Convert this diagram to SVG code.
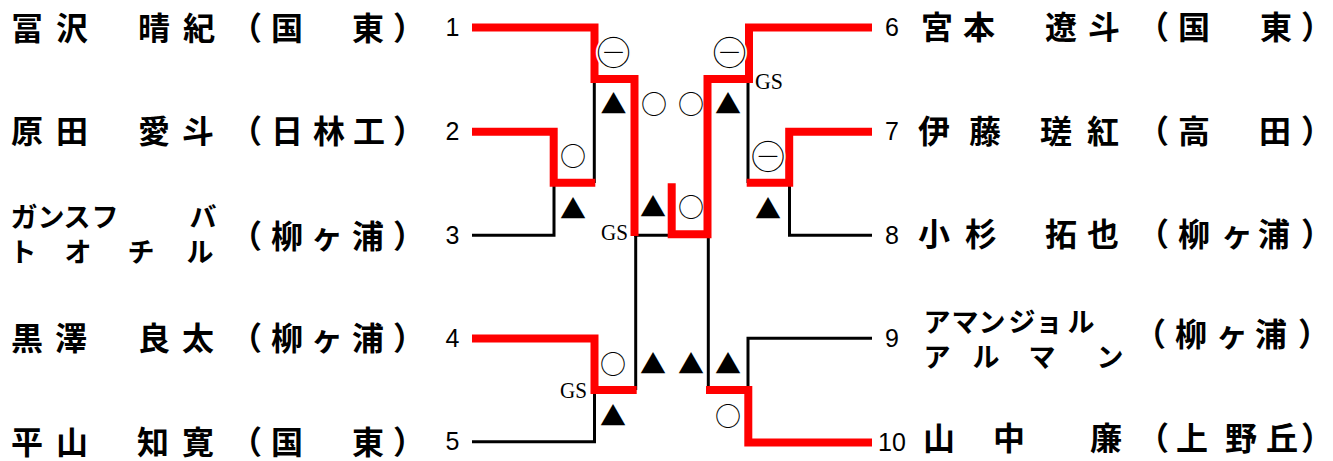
<svg xmlns="http://www.w3.org/2000/svg" width="1333" height="461" viewBox="0 0 1333 461">
<style>
.nm{font-family:"Noto Sans CJK JP","Noto Sans CJK SC",sans-serif;font-weight:bold;font-size:32px;fill:#000;text-anchor:middle}
.kn{font-family:"Noto Sans CJK JP","Noto Sans CJK SC",sans-serif;font-weight:bold;font-size:27px;fill:#000;text-anchor:middle}
.no{font-family:"Liberation Sans",Arial,sans-serif;font-size:25px;fill:#000;text-anchor:middle}
.mk{font-family:"Noto Sans CJK JP","DejaVu Sans",sans-serif;font-size:26px;fill:#000;text-anchor:middle}
.mn{font-family:"Noto Sans CJK JP","DejaVu Sans",sans-serif;font-size:45px;fill:#000;stroke:#fff;stroke-width:1.8;text-anchor:middle}
.gs{font-family:"Liberation Serif","Times New Roman",serif;font-size:23px;fill:#000}
.bk{fill:none;stroke:#000;stroke-width:3;stroke-linejoin:miter;stroke-linecap:butt}
.rd{fill:none;stroke:#ff0000;stroke-width:8;stroke-linejoin:miter;stroke-linecap:butt}
</style>
<rect width="1333" height="461" fill="#fff"/>
<g id="connectors">
<path class="bk" d="M472 235.3H554V183"/>
<path class="bk" d="M594.3 79V183"/>
<path class="bk" d="M472 441.7H594.5V390"/>
<path class="bk" d="M635.7 235.3V390"/>
<path class="bk" d="M634 235.3H708"/>
<path class="bk" d="M708.3 235.3V390"/>
<path class="bk" d="M748 79V183"/>
<path class="bk" d="M872 235.3H789.5V183"/>
<path class="bk" d="M872 338.3H748V390"/>
<path class="rd" d="M472 27.5H594.5V79H634.5V236"/>
<path class="rd" d="M472 131.7H553.7V182.8H595.3"/>
<path class="rd" d="M472 338.5H594.5V390H636.7"/>
<path class="rd" d="M872 27.5H749V79H707.5V234.2H671.7V183.3"/>
<path class="rd" d="M872 131.7H789.2V182.8H746.7"/>
<path class="rd" d="M872 442.5H748.3V390H706"/>
</g>
<g id="marks">
<text class="mn" x="613.5" y="70">⊖</text>
<text class="mk" x="613.5" y="114">▲</text>
<text class="mk" x="654" y="114">○</text>
<text class="mk" x="691" y="114">○</text>
<text class="mn" x="729.5" y="70">⊖</text>
<text class="mk" x="728" y="114">▲</text>
<text class="mk" x="573" y="166">○</text>
<text class="mk" x="573" y="219">▲</text>
<text class="mk" x="653" y="217">▲</text>
<text class="mk" x="691" y="217">○</text>
<text class="mn" x="768" y="174">⊖</text>
<text class="mk" x="768" y="219">▲</text>
<text class="mk" x="613" y="374">○</text>
<text class="mk" x="653" y="374">▲</text>
<text class="mk" x="691" y="374">▲</text>
<text class="mk" x="728" y="374">▲</text>
<text class="mk" x="613" y="426">▲</text>
<text class="mk" x="728" y="426">○</text>
<text class="gs" x="601" y="240" textLength="27" lengthAdjust="spacingAndGlyphs">GS</text>
<text class="gs" x="755" y="89" textLength="28" lengthAdjust="spacingAndGlyphs">GS</text>
<text class="gs" x="560" y="398" textLength="27" lengthAdjust="spacingAndGlyphs">GS</text>
</g>
<g id="player1">
<text class="no" x="452.5" y="36">1</text>
<text class="nm" x="27 72 113 154 199 246 287 328 368 409" y="39.5">冨沢　晴紀（国　東）</text>
</g>
<g id="player2">
<text class="no" x="452.5" y="140">2</text>
<text class="nm" x="27 72 113 154 198 246 287 329 369 409" y="143">原田　愛斗（日林工）</text>
</g>
<g id="player3">
<text class="no" x="452.5" y="244">3</text>
<text class="kn"><tspan x="24 51 77 105 154 203" y="227">ガンスフ　バ</tspan><tspan x="23 78 141 200" y="262">トオチル</tspan></text>
<text class="nm" x="246 287 327 368 409" y="248">（柳ヶ浦）</text>
</g>
<g id="player4">
<text class="no" x="452.5" y="347">4</text>
<text class="nm" x="27 71 112 154 198 246 287 327 368 409" y="350">黒澤　良太（柳ヶ浦）</text>
</g>
<g id="player5">
<text class="no" x="452.5" y="450">5</text>
<text class="nm" x="27 72 113 153 198 246 287 328 368 409" y="454">平山　知寛（国　東）</text>
</g>
<g id="player6">
<text class="no" x="892" y="36">6</text>
<text class="nm" x="937 979 1020 1061 1104 1153 1194 1235 1276 1317" y="39">宮本　遼斗（国　東）</text>
</g>
<g id="player7">
<text class="no" x="892" y="140">7</text>
<text class="nm" x="934 985 1020 1056 1103 1153 1194 1235 1275 1317" y="143">伊藤　瑳紅（高　田）</text>
</g>
<g id="player8">
<text class="no" x="892" y="244">8</text>
<text class="nm" x="934 981 1020 1061 1103 1153 1194 1237 1274 1317" y="246">小杉　拓也（柳ヶ浦）</text>
</g>
<g id="player9">
<text class="no" x="892" y="347">9</text>
<text class="kn"><tspan x="937 965 992 1022 1049 1081" y="332">アマンジョル</tspan><tspan x="937 986 1042 1110" y="367">アルマン</tspan></text>
<text class="nm" x="1150 1191 1232 1271 1314" y="346">（柳ヶ浦）</text>
</g>
<g id="player10">
<text class="no" x="892" y="451">10</text>
<text class="nm" x="939 1009 1057 1106 1153 1192 1241 1282 1317" y="450">山中　廉（上野丘）</text>
</g>
</svg>
